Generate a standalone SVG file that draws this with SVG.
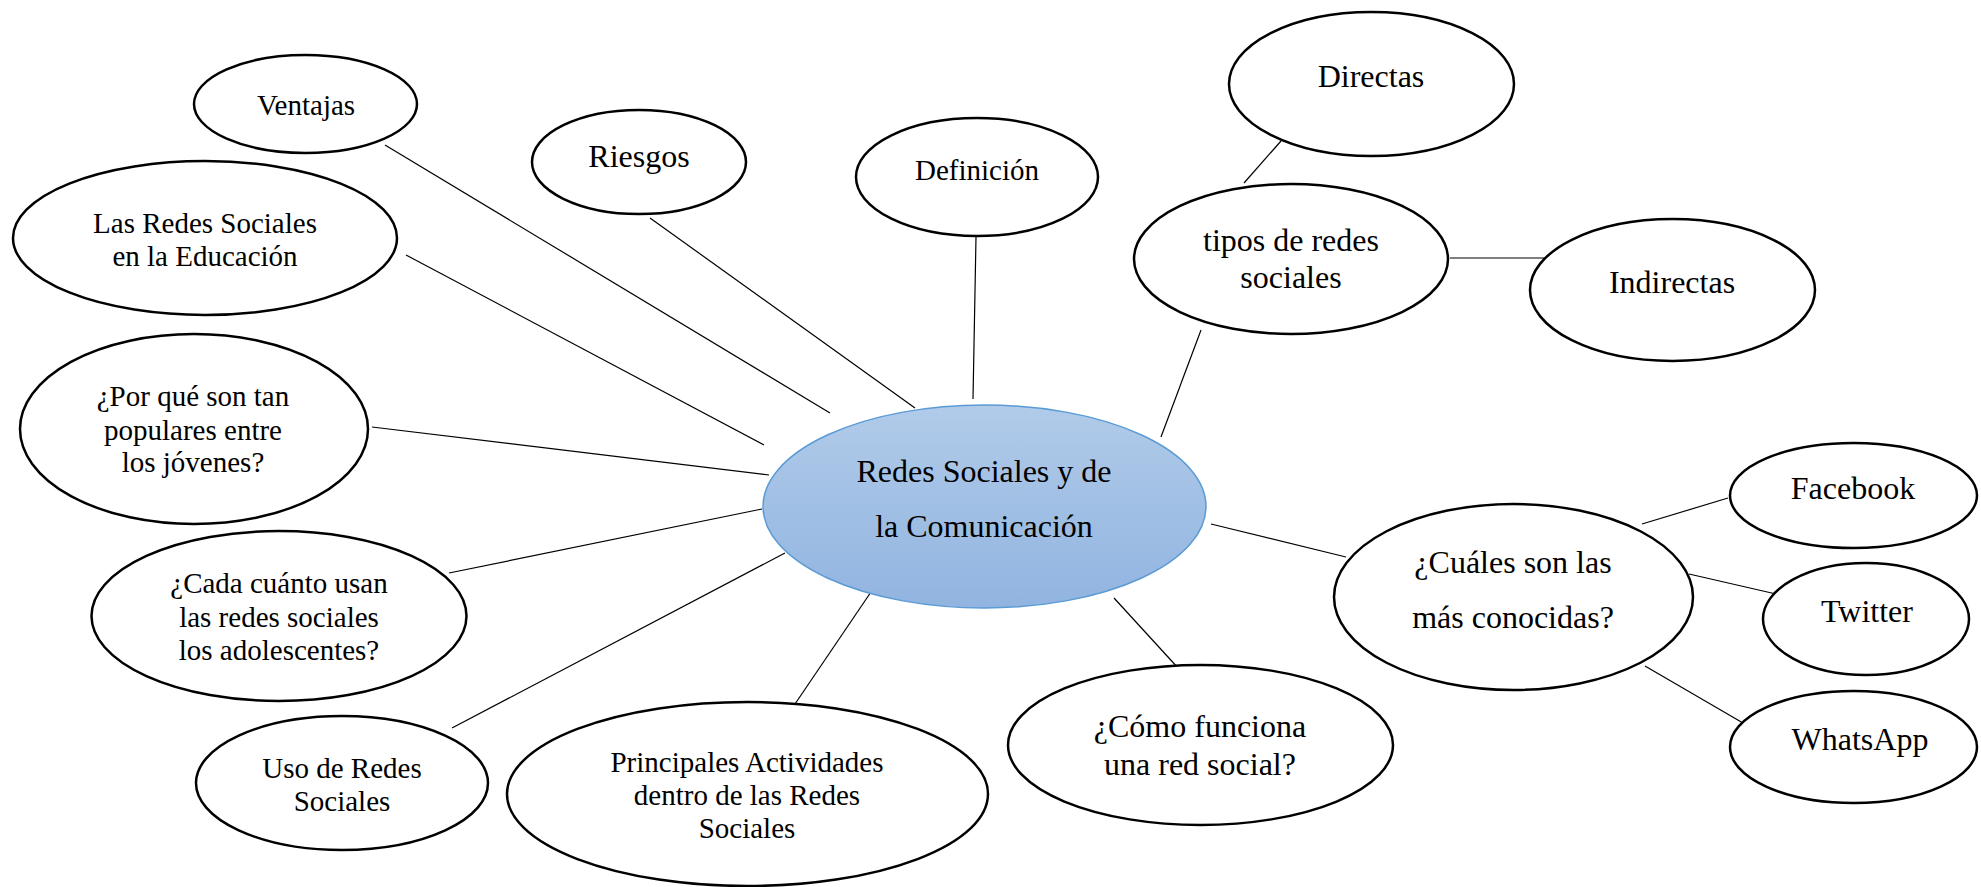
<svg xmlns="http://www.w3.org/2000/svg" width="1981" height="887" viewBox="0 0 1981 887">
<style>
.n{fill:#fff;stroke:#000;stroke-width:2.5}
text{font-family:'Liberation Serif','DejaVu Serif',serif;font-size:29px;fill:#000;text-anchor:middle}
text.b{font-size:32px}
.c line{stroke:#000;stroke-width:1.2}
</style>
<defs>
<linearGradient id="g" x1="0" y1="0" x2="0" y2="1">
<stop offset="0" stop-color="#b1cbe9"/>
<stop offset="1" stop-color="#91b4e0"/>
</linearGradient>
</defs>
<rect width="1981" height="887" fill="#fff"/>
<g id="connectors" class="c">
<line x1="385" y1="145" x2="830" y2="413"/>
<line x1="406" y1="255" x2="764" y2="445"/>
<line x1="650" y1="218" x2="915" y2="408"/>
<line x1="976" y1="237" x2="973" y2="399"/>
<line x1="372" y1="427" x2="769" y2="475"/>
<line x1="449" y1="573" x2="762" y2="509"/>
<line x1="452" y1="728" x2="785" y2="553"/>
<line x1="795" y1="704" x2="873" y2="589"/>
<line x1="1179" y1="669" x2="1114" y2="598"/>
<line x1="1211" y1="524" x2="1346" y2="557"/>
<line x1="1161" y1="437" x2="1201" y2="330"/>
<line x1="1244" y1="183" x2="1281" y2="141"/>
<line x1="1450" y1="258" x2="1544" y2="258"/>
<line x1="1642" y1="524" x2="1728" y2="498"/>
<line x1="1689" y1="574" x2="1776" y2="594"/>
<line x1="1645" y1="666" x2="1743" y2="723"/>
</g>
<g id="center">
<ellipse cx="984.5" cy="506.5" rx="221.5" ry="101.5" fill="url(#g)" stroke="#5b9bd5" stroke-width="1.5"/>
<text class="b" x="984" y="482" font-family="Liberation Serif, serif">Redes Sociales y de</text>
<text class="b" x="984" y="537" font-family="Liberation Serif, serif">la Comunicación</text>
</g>
<g id="ventajas">
<ellipse class="n" cx="305.5" cy="104" rx="111.5" ry="49"/>
<text x="306" y="115">Ventajas</text>
</g>
<g id="educacion">
<ellipse class="n" cx="205" cy="238" rx="192" ry="77"/>
<text x="205" y="233">Las Redes Sociales</text>
<text x="205" y="266">en la Educación</text>
</g>
<g id="riesgos">
<ellipse class="n" cx="639" cy="162" rx="107" ry="52"/>
<text class="b" x="639" y="167">Riesgos</text>
</g>
<g id="definicion">
<ellipse class="n" cx="977" cy="177" rx="121" ry="59"/>
<text x="977" y="180">Definición</text>
</g>
<g id="populares">
<ellipse class="n" cx="194" cy="429" rx="174" ry="95"/>
<text x="193" y="406">¿Por qué son tan</text>
<text x="193" y="440">populares entre</text>
<text x="193" y="472">los jóvenes?</text>
</g>
<g id="cada-cuanto">
<ellipse class="n" cx="279" cy="616" rx="187.5" ry="85"/>
<text x="279" y="593">¿Cada cuánto usan</text>
<text x="279" y="627">las redes sociales</text>
<text x="279" y="660">los adolescentes?</text>
</g>
<g id="uso">
<ellipse class="n" cx="342" cy="783" rx="146" ry="67"/>
<text x="342" y="778">Uso de Redes</text>
<text x="342" y="811">Sociales</text>
</g>
<g id="actividades">
<ellipse class="n" cx="747.5" cy="794" rx="240.5" ry="92"/>
<text x="747" y="772">Principales Actividades</text>
<text x="747" y="805">dentro de las Redes</text>
<text x="747" y="838">Sociales</text>
</g>
<g id="como-funciona">
<ellipse class="n" cx="1200.5" cy="745" rx="192.5" ry="80"/>
<text class="b" x="1200" y="737">¿Cómo funciona</text>
<text class="b" x="1200" y="775">una red social?</text>
</g>
<g id="tipos">
<ellipse class="n" cx="1291" cy="259" rx="157" ry="75"/>
<text class="b" x="1291" y="251">tipos de redes</text>
<text class="b" x="1291" y="288">sociales</text>
</g>
<g id="directas">
<ellipse class="n" cx="1371.5" cy="84" rx="142.5" ry="72"/>
<text class="b" x="1371" y="87">Directas</text>
</g>
<g id="indirectas">
<ellipse class="n" cx="1672.5" cy="290" rx="142.5" ry="71"/>
<text class="b" x="1672" y="293">Indirectas</text>
</g>
<g id="cuales">
<ellipse class="n" cx="1513.5" cy="597" rx="179.5" ry="93"/>
<text class="b" x="1513" y="573">¿Cuáles son las</text>
<text class="b" x="1513" y="628">más conocidas?</text>
</g>
<g id="facebook">
<ellipse class="n" cx="1853.5" cy="495.5" rx="123.5" ry="52.5"/>
<text class="b" x="1853" y="499">Facebook</text>
</g>
<g id="twitter">
<ellipse class="n" cx="1866" cy="619" rx="103" ry="56"/>
<text class="b" x="1867" y="622">Twitter</text>
</g>
<g id="whatsapp">
<ellipse class="n" cx="1853.5" cy="747" rx="123.5" ry="56"/>
<text class="b" x="1860" y="750">WhatsApp</text>
</g>
</svg>
